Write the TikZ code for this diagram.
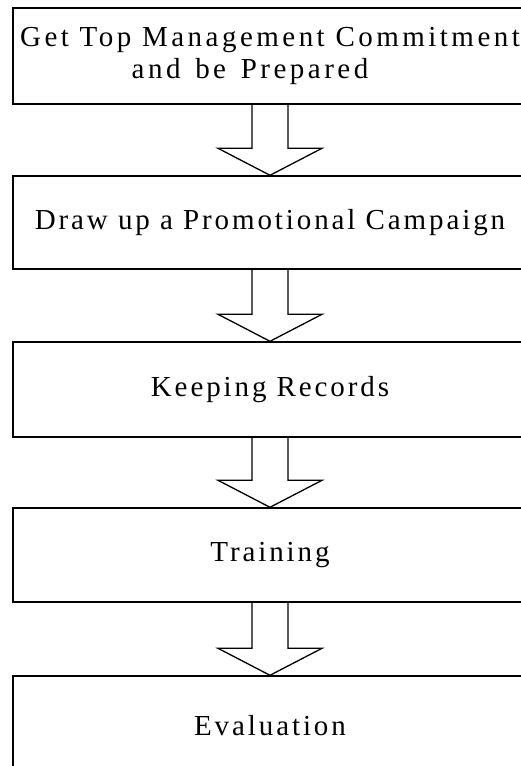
\documentclass[tikz,border=0pt]{standalone}
\usepackage{fontspec}
\usetikzlibrary{calc}
\newfontfamily\boxfont[LetterSpace=10]{Liberation Serif}
\newfontfamily\widefont[LetterSpace=12]{Liberation Serif}
\newcommand\blockarrow[2]{%
  \draw[arrowline] ($(#1.south)+(-18,0)$) -- ($(#2.north)+(-18,27)$) -- ($(#2.north)+(-52,27)$)
    -- (#2.north) -- ($(#2.north)+(52,27)$) -- ($(#2.north)+(18,27)$) -- ($(#1.south)+(18,0)$);}
\begin{document}
\begin{tikzpicture}[x=1pt,y=1pt,
  stepbox/.style={draw, line width=1.4pt, rectangle, minimum width=514pt, inner sep=0pt,
    align=center, font=\boxfont\fontsize{29}{32}\selectfont},
  arrowline/.style={draw, line width=1.3pt, line join=miter}]
\useasboundingbox (0,0) rectangle (521,766);
\node[stepbox, minimum height=96pt, font=\widefont\fontsize{29}{32}\selectfont] (b1) at (270,710)
  {Get Top Management Commitment\\and\hspace{4pt} be\hspace{4pt} Prepared\hspace*{40pt}};
\node[stepbox, minimum height=93pt] (b2) at (270,543.5) {Draw up a Promotional Campaign};
\node[stepbox, minimum height=95pt] (b3) at (270,376.5) {Keeping Records};
\node[stepbox, minimum height=94pt] (b4) at (270,211) {Training};
\node[stepbox, minimum height=100pt] (b5) at (270,40) {Evaluation};
\blockarrow{b1}{b2}
\blockarrow{b2}{b3}
\blockarrow{b3}{b4}
\blockarrow{b4}{b5}
\end{tikzpicture}
\end{document}
